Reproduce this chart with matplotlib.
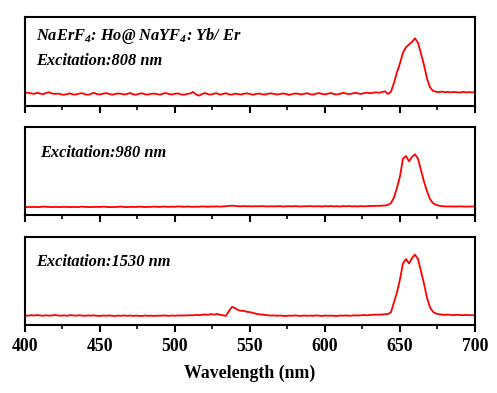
import numpy as np
import matplotlib
matplotlib.use('Agg')
import matplotlib.pyplot as plt
from matplotlib.ticker import MultipleLocator

plt.rcParams['font.family'] = ['Liberation Serif', 'DejaVu Serif']
plt.rcParams['mathtext.fontset'] = 'custom'
plt.rcParams['mathtext.rm'] = 'Liberation Serif:bold:italic'
plt.rcParams['mathtext.it'] = 'Liberation Serif:bold:italic'

# wavelength grid (nm), 2 nm steps
wl = np.arange(400, 701, 2)

# emission, 808 nm excitation (a.u.)
ex808 = [14.5, 15.0, 14.2, 13.6, 14.8, 14.0, 13.2, 14.6, 15.4, 14.1, 13.5, 14.0, 13.1, 12.6, 13.4, 14.2, 13.0, 12.8,
         13.9, 14.4, 13.2, 12.5, 13.6, 14.8, 13.3, 12.9, 13.8, 14.5, 13.6, 12.7, 13.4, 14.1, 13.8, 12.9, 13.5, 14.6,
         13.2, 12.6, 13.8, 14.3, 13.1, 12.8, 13.6, 14.0, 13.3, 12.7, 13.9, 14.5, 13.4, 12.9, 13.7, 14.2, 13.0, 12.6,
         13.5, 14.1, 15.8, 13.0, 11.6, 13.4, 14.6, 13.2, 12.8, 13.9, 14.3, 12.7, 13.5, 14.4, 13.1, 12.8, 13.9,
         13.3, 12.9, 13.8, 14.2, 13.4, 12.6, 13.5, 14.0, 13.2, 12.8, 13.7, 14.3, 13.5, 12.9, 13.4, 14.1, 13.6, 12.4,
         13.3, 14.0, 13.8, 12.9, 13.6, 14.4, 13.2, 12.7, 13.8, 14.5, 13.6, 13.0, 13.9, 14.6, 13.4, 12.9, 13.7, 14.8,
         14.1, 13.3, 14.0, 14.7, 14.2, 13.5, 14.4, 15.0, 14.3, 14.9, 15.4, 14.8, 15.6, 16.5,
         13.5, 16.0, 26.0, 38.0, 48.0, 60.0, 66.0, 69.0, 72.0, 76.0, 71.0, 59.0, 46.0, 31.0, 21.0, 17.0, 16.0, 15.5,
         16.2, 15.4, 15.9, 15.2, 15.8, 15.5, 15.1, 15.9, 15.3, 15.6, 15.2, 15.8]

# emission, 980 nm excitation (a.u.)
ex980 = [9.0, 9.1, 9.0, 9.2, 9.0, 9.1, 9.6, 9.3, 9.1, 9.0, 9.2, 9.1, 9.0, 9.3, 9.1, 9.0, 9.2, 9.1,
         9.0, 9.5, 9.2, 9.1, 9.0, 9.2, 9.3, 9.1, 9.5, 9.2, 9.0, 9.1, 9.3, 9.2, 9.6, 9.1, 9.0, 9.2,
         9.3, 9.1, 9.5, 9.2, 9.0, 9.3, 9.2, 9.6, 9.3, 9.1, 9.7, 9.4, 9.2, 9.6, 9.3, 9.8, 9.5, 9.3,
         9.7, 9.4, 9.2, 9.6, 9.4, 9.8, 9.5, 9.3, 9.7, 9.6, 9.8, 9.5, 9.8, 10.0, 10.3, 10.6, 10.4,
         10.0, 9.9, 10.1, 9.9, 10.0, 9.8, 10.0, 9.9, 10.1, 9.9, 9.7, 10.0, 9.8, 9.9, 10.1, 9.6, 9.9, 10.0,
         9.8, 10.1, 9.9, 9.7, 10.0, 9.9, 10.2, 9.8, 9.9, 10.0, 9.7, 10.1, 9.9, 10.2, 9.8, 10.0, 9.7, 10.1,
         9.9, 10.2, 9.8, 10.0, 9.7, 10.1, 9.9, 10.0, 10.3, 10.2, 10.5, 10.4, 10.6, 10.8,
         11.5, 13.5, 20.0, 31.0, 44.0, 64.0, 67.0, 61.0, 66.0, 69.0, 64.0, 51.0, 38.0, 27.0, 18.0, 13.5, 11.5, 10.6,
         10.0, 9.8, 9.7, 9.8, 9.6, 9.7, 9.8, 9.6, 9.5, 9.7, 9.6, 9.8]

# emission, 1530 nm excitation (a.u.)
ex1530 = [11.0, 10.6, 11.2, 10.8, 11.3, 10.9, 10.5, 11.1, 10.7, 10.9, 11.4, 10.8, 10.6, 11.0, 10.5, 11.2, 10.9, 10.6,
          11.1, 10.7, 10.4, 10.9, 10.6, 11.0, 10.5, 10.3, 10.8, 10.5, 10.9, 10.6, 10.2, 10.7, 10.5, 10.9, 10.4, 10.8,
          10.3, 10.7, 10.5, 10.2, 10.8, 10.4, 10.6, 10.3, 10.7, 10.5,
          10.9, 10.6, 10.4, 10.8, 10.5, 10.9, 10.7, 11.0, 10.8, 11.2,
          11.0, 11.5, 11.2, 11.6, 12.0, 11.5, 12.4, 11.8, 12.6, 11.6,
          11.0, 10.4, 16.0, 20.6, 19.2,
          17.0, 16.2, 16.0, 15.0, 14.6, 13.8, 12.8, 12.2, 11.8, 11.3,
          11.0, 10.7, 10.9, 10.5, 10.8, 10.4, 10.2, 10.7, 10.5, 10.9, 10.6, 10.3, 10.8, 10.5, 10.7, 10.4, 10.9, 10.6,
          10.3, 10.8, 10.5, 10.7, 10.4, 10.2, 10.8, 10.6, 10.9, 10.5, 10.7, 11.0, 10.8, 11.1, 11.3, 11.0, 11.4, 11.6,
          11.9, 11.7, 12.0, 12.3,
          12.5, 14.5, 26.0, 37.0, 52.0, 70.0, 75.0, 70.0, 76.0, 80.0, 75.0, 61.0, 47.0, 31.0, 20.0, 15.0, 13.0, 12.2,
          11.8, 11.5, 11.9, 11.4, 11.2, 11.6, 11.3, 11.1, 11.5, 11.2, 11.0, 11.4]

assert len(ex808) == len(wl) and len(ex980) == len(wl) and len(ex1530) == len(wl)

series = [ex808, ex980, ex1530]
labels = [['NaErF$_{\\mathregular{4}}$: Ho@ NaYF$_{\\mathregular{4}}$: Yb/ Er', 'Excitation:808 nm'],
          ['Excitation:980 nm'],
          ['Excitation:1530 nm']]

fig = plt.figure(figsize=(4.97, 3.93), dpi=100)
boxes = [[0.0503, 0.7303, 0.9054, 0.2265],
         [0.0503, 0.4529, 0.9054, 0.2239],
         [0.0503, 0.1730, 0.9054, 0.2239]]
text_pos = [[(0.024, 0.736), (0.024, 0.455)],
            [(0.033, 0.659)],
            [(0.024, 0.665)]]

for i in range(3):
    ax = fig.add_axes(boxes[i])
    ax.plot(wl, series[i], color='#ff0000', lw=1.3)
    ax.set_xlim(400, 700)
    ax.set_ylim(0, 100)
    ax.set_yticks([])
    ax.xaxis.set_major_locator(MultipleLocator(50))
    ax.xaxis.set_minor_locator(MultipleLocator(25))
    ax.tick_params(axis='x', which='major', direction='out', length=5, width=1.5, pad=4.5)
    ax.tick_params(axis='x', which='minor', direction='out', length=3, width=1.2)
    for sp in ax.spines.values():
        sp.set_linewidth(1.5)
    if i < 2:
        ax.set_xticklabels([])
    else:
        for lab in ax.get_xticklabels():
            lab.set_fontsize(12.8)
            lab.set_fontweight('bold')
        ax.set_xlabel('Wavelength (nm)', fontsize=12.8, fontweight='bold', labelpad=7)
    for txt, (tx, ty) in zip(labels[i], text_pos[i]):
        ax.text(tx, ty, txt, transform=ax.transAxes, fontsize=11.8, fontweight='bold',
                fontstyle='italic', va='baseline', ha='left')

fig.savefig('out.png', dpi=100)
